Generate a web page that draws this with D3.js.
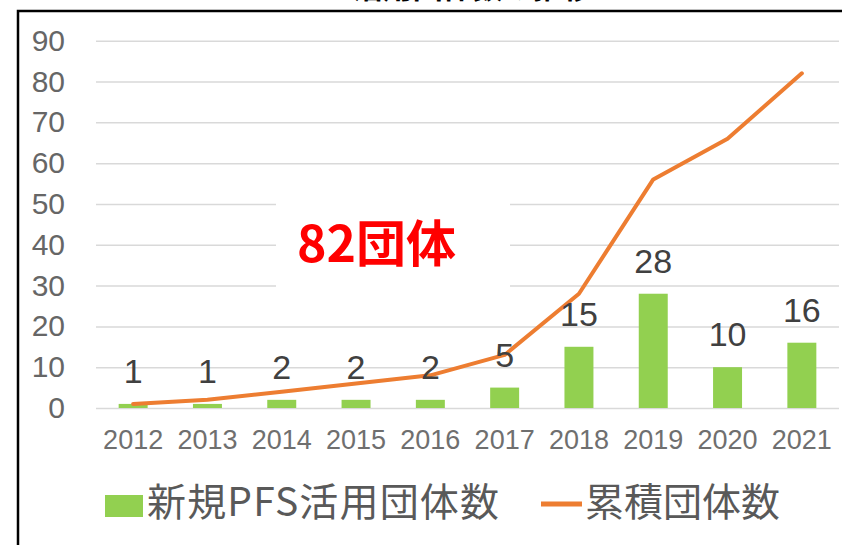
<!DOCTYPE html>
<html>
<head>
<meta charset="utf-8">
<script src="https://cdn.jsdelivr.net/npm/d3@7"></script>
<style>
  body { margin: 0; background: #fff; }
  svg { display: block; }
</style>
</head>
<body>
<div id="chart"></div>
<script>
// data
var years = ["2012", "2013", "2014", "2015", "2016", "2017", "2018", "2019", "2020", "2021"];
var newGroups = [1, 1, 2, 2, 2, 5, 15, 28, 10, 16];
var totalGroups = [1, 2, 4, 6, 8, 13, 28, 56, 66, 82];
var yTicks = [0, 10, 20, 30, 40, 50, 60, 70, 80, 90];
var seriesNames = ["新規PFS活用団体数", "累積団体数"];
var titleText = "PFS活用団体数の推移";
var calloutText = "82団体";

window.onload = function() {
    var width = 842, height = 545;
    var jpFont = "'Noto Sans CJK JP', 'Noto Sans', sans-serif";
    var numFont = "'Liberation Sans', Arial, sans-serif";

    var svg = d3.select("#chart")
                .append("svg")
                .attr("width", width)
                .attr("height", height);

    // title, mostly cut off at the top edge (as in the source image)
    svg.append("text")
        .attr("x", 445)
        .attr("y", -2.5)
        .attr("text-anchor", "middle")
        .style("font-family", jpFont)
        .style("font-weight", "bold")
        .style("font-size", "30px")
        .style("fill", "#000")
        .text(titleText);

    // frame
    svg.append("rect")
        .attr("x", 18)
        .attr("y", 11)
        .attr("width", 900)
        .attr("height", 600)
        .style("fill", "none")
        .style("stroke", "#000")
        .style("stroke-width", 2.5);

    // scales
    var x = d3.scaleBand()
                .domain(years)
                .range([96, 839])
                .paddingInner(0.61)
                .paddingOuter(0.305);

    var y = d3.scaleLinear()
                .domain([0, 90])
                .range([408, 40.7]);

    // y axis with gridlines
    var yAxis = svg.append("g")
        .attr("transform", "translate(96,0)")
        .call(d3.axisLeft(y).tickValues(yTicks).tickSize(-743).tickPadding(31));

    yAxis.select(".domain").remove();
    yAxis.selectAll(".tick line")
        .style("stroke", "#d9d9d9")
        .style("stroke-width", 1.5);
    yAxis.selectAll(".tick text")
        .style("font-family", numFont)
        .style("font-size", "30px")
        .style("fill", "#666");

    // x axis labels
    var xAxis = svg.append("g")
        .attr("transform", "translate(0,408)")
        .call(d3.axisBottom(x).tickSize(0).tickPadding(22));

    xAxis.select(".domain").remove();
    xAxis.selectAll(".tick text")
        .style("font-family", numFont)
        .style("font-size", "27px")
        .style("fill", "#6f6f6f");

    // white box behind the callout
    svg.append("rect")
        .attr("x", 276)
        .attr("y", 199)
        .attr("width", 234)
        .attr("height", 93)
        .style("fill", "#fff");

    // bars
    svg.selectAll(".bar")
        .data(newGroups)
        .enter()
        .append("rect")
        .attr("class", "bar")
        .attr("x", function(d, i) { return x(years[i]); })
        .attr("y", function(d) { return y(d); })
        .attr("width", x.bandwidth())
        .attr("height", function(d) { return y(0) - y(d); })
        .style("fill", "#92d050");

    // cumulative line
    var line = d3.line()
                .x(function(d, i) { return x(years[i]) + x.bandwidth() / 2; })
                .y(function(d) { return y(d); });

    svg.append("path")
        .attr("d", line(totalGroups))
        .style("fill", "none")
        .style("stroke", "#ed7d31")
        .style("stroke-width", 4)
        .style("stroke-linecap", "round")
        .style("stroke-linejoin", "round");

    // bar value labels
    svg.selectAll(".label")
        .data(newGroups)
        .enter()
        .append("text")
        .attr("class", "label")
        .attr("x", function(d, i) { return x(years[i]) + x.bandwidth() / 2; })
        .attr("y", function(d) { return y(d) - 21; })
        .attr("text-anchor", "middle")
        .style("font-family", numFont)
        .style("font-size", "34px")
        .style("fill", "#404040")
        .text(function(d) { return d; });

    // callout
    svg.append("text")
        .attr("x", 297)
        .attr("y", 262)
        .style("font-family", jpFont)
        .style("font-weight", "bold")
        .style("font-size", "50px")
        .style("fill", "#ff0000")
        .text(calloutText);

    // legend
    var legend = svg.append("g");

    legend.append("rect")
        .attr("x", 105)
        .attr("y", 495)
        .attr("width", 38)
        .attr("height", 22)
        .style("fill", "#92d050");

    legend.append("text")
        .attr("x", 147)
        .attr("y", 516)
        .attr("textLength", 352)
        .attr("lengthAdjust", "spacing")
        .style("font-family", jpFont)
        .style("font-size", "39px")
        .style("fill", "#595959")
        .text(seriesNames[0]);

    legend.append("line")
        .attr("x1", 541)
        .attr("x2", 582)
        .attr("y1", 504)
        .attr("y2", 504)
        .style("stroke", "#ed7d31")
        .style("stroke-width", 5);

    legend.append("text")
        .attr("x", 585)
        .attr("y", 516)
        .style("font-family", jpFont)
        .style("font-size", "39px")
        .style("fill", "#595959")
        .text(seriesNames[1]);
};
</script>
</body>
</html>
